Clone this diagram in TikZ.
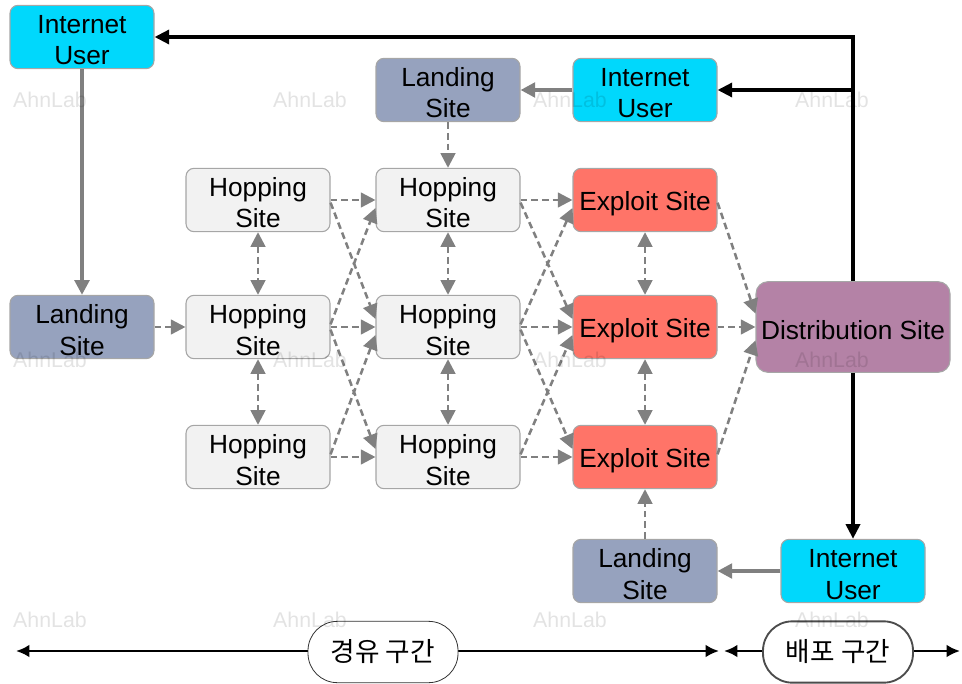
\documentclass[tikz,border=0pt]{standalone}
\usepackage{fontspec}
\setmainfont{Liberation Sans}
\newfontfamily\krfont{Noto Sans CJK KR}
\usetikzlibrary{arrows.meta}

\definecolor{userc}{RGB}{0,216,252}
\definecolor{landc}{RGB}{150,162,190}
\definecolor{hopc}{RGB}{242,242,242}
\definecolor{expc}{RGB}{255,116,104}
\definecolor{distc}{RGB}{180,130,166}
\definecolor{edgec}{RGB}{166,166,166}
\definecolor{linec}{RGB}{128,128,128}

\begin{document}
\begin{tikzpicture}[x=0.75pt,y=-0.75pt,
  box/.style={draw=edgec, line width=0.8pt, rounded corners=6pt,
    minimum width=108pt, minimum height=47.5pt, inner sep=0pt,
    align=center, font=\fontsize{19.7}{23.5}\selectfont},
  twoline/.style={box, text height=42pt, text depth=0pt},
  oneline/.style={box, text height=19.5pt},
  userbox/.style={twoline, fill=userc},
  landbox/.style={twoline, fill=landc},
  hopbox/.style={twoline, fill=hopc},
  expbox/.style={oneline, fill=expc},
  distbox/.style={oneline, fill=distc, minimum width=145.5pt, minimum height=68pt, rounded corners=9pt},
  mainflow/.style={draw=black, line width=2.6pt, -{Triangle[length=11pt,width=10.5pt]}},
  visit/.style={draw=linec, line width=2.6pt, -{Triangle[length=11pt,width=11pt]}},
  hopflow/.style={draw=linec, line width=1.9pt, dash pattern=on 5pt off 3pt,
    -{Triangle[length=11pt,width=11pt]}},
  hoplink/.style={hopflow, {Triangle[length=11pt,width=11pt]}-{Triangle[length=11pt,width=11pt]}},
  zone/.style={draw=black, line width=1.9pt, {Latex[length=10pt,width=9.5pt]}-{Latex[length=10pt,width=9.5pt]}},
  zonelabel/.style={draw, fill=white, rounded corners=22pt, minimum width=112.5pt,
    minimum height=46pt, inner sep=0pt, font=\krfont\fontsize{20}{24}\selectfont},
  wmark/.style={font=\fontsize{16}{16}\selectfont, text=black, opacity=0.11}
]
\useasboundingbox (0,0) rectangle (962,684);

% users and landing pages
\node[userbox] (iu1) at (82,37) {Internet\\User};
\node[landbox] (ls1) at (448,90) {Landing\\Site};
\node[userbox] (iu2) at (645,90) {Internet\\User};
\node[landbox] (ls2) at (82,327) {Landing\\Site};
\node[landbox] (ls3) at (645,571) {Landing\\Site};
\node[userbox] (iu3) at (853,571) {Internet\\User};

% hopping layers
\node[hopbox] (h11) at (258,200) {Hopping\\Site};
\node[hopbox] (h12) at (258,327) {Hopping\\Site};
\node[hopbox] (h13) at (258,457) {Hopping\\Site};
\node[hopbox] (h21) at (448,200) {Hopping\\Site};
\node[hopbox] (h22) at (448,327) {Hopping\\Site};
\node[hopbox] (h23) at (448,457) {Hopping\\Site};

% exploit layer and distribution
\node[expbox] (e1) at (645,200) {Exploit Site};
\node[expbox] (e2) at (645,327) {Exploit Site};
\node[expbox] (e3) at (645,457) {Exploit Site};
\node[distbox] (ds) at (853,327) {Distribution Site};

% distribution to users
\coordinate (jn) at (ds.north |- iu2.east);
\draw[mainflow] (ds.north) |- (iu1.east);
\draw[mainflow] (jn) -- (iu2.east);
\draw[mainflow] (ds.south) -- (iu3.north);

% users visit landing pages
\draw[visit] (iu1.south) -- (ls2.north);
\draw[visit] (iu2.west) -- (ls1.east);
\draw[visit] (iu3.west) -- (ls3.east);

% landing pages redirect
\draw[hopflow] (ls1.south) -- (h21.north);
\draw[hopflow] (ls2.east) -- (h12.west);
\draw[hopflow] (ls3.north) -- (e3.south);

% links within a layer
\foreach \a/\b in {h11/h12,h12/h13,h21/h22,h22/h23,e1/e2,e2/e3}
  \draw[hoplink] (\a.south) -- (\b.north);

% forward hops between layers
\foreach \s/\t in {h11/h21, h12/h22, h13/h23, h21/e1, h22/e2, h23/e3}
  \draw[hopflow] (\s.east) -- (\t.west);
\foreach \s/\t in {h11/h22, h12/h23, h21/e2, h22/e3}
  \draw[hopflow] ([yshift=-2pt]\s.east) -- ([yshift=6pt]\t.west);
\foreach \s/\t in {h12/h21, h13/h22, h22/e1, h23/e2}
  \draw[hopflow] ([yshift=2pt]\s.east) -- ([yshift=-6pt]\t.west);
\draw[hopflow] ([yshift=-2pt]e1.east) -- ([yshift=10pt]ds.west);
\draw[hopflow] (e2.east) -- (ds.west);
\draw[hopflow] ([yshift=2pt]e3.east) -- ([yshift=-10pt]ds.west);

% stage ranges
\coordinate (z1a) at (16,651);
\coordinate (z1b) at (719,651);
\coordinate (z2a) at (724,651);
\coordinate (z2b) at (960,651);
\draw[zone] (z1a) -- (z1b);
\draw[zone] (z2a) -- (z2b);
\node[zonelabel, draw=black!80, line width=0.6pt] (zl1) at (383,652) {경유 구간};
\node[zonelabel, draw=black!70, line width=1.4pt] (zl2) at (838,652) {배포 구간};

% watermark
\foreach \y in {100,360,620}
  \foreach \x in {50,310,570,832}
    \node[wmark] at (\x,\y) {AhnLab};
\end{tikzpicture}
\end{document}
